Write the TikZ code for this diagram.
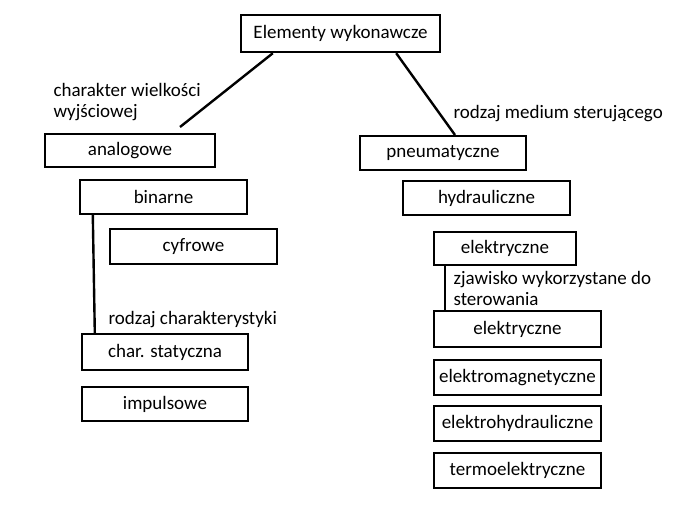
\documentclass[tikz,border=0pt]{standalone}
\usepackage{fontspec}
\setmainfont{Carlito}
\usetikzlibrary{positioning}
\begin{document}
\begin{tikzpicture}[x=1pt,y=-1pt,
	box/.style={rectangle, draw=black, line width=2.4pt, inner sep=0pt, font=\fontsize{19}{21}\selectfont},
	lbl/.style={align=left, anchor=west, font=\fontsize{19}{21}\selectfont},
	]
	\useasboundingbox (0,0) rectangle (700,519);
		%Nodes
    \node[box, minimum width=199, minimum height=37] (top)  at (340.5,33.5) {Elementy wykonawcze};
    \node[box, minimum width=170, minimum height=33] (ana)  at (130,150.5) {analogowe};
    \node[box, minimum width=167, minimum height=34] (bin)  at (163.5,197) {binarne};
    \node[box, minimum width=167, minimum height=35] (cyf)  at (193.5,246.5) {cyfrowe};
    \node[box, minimum width=166, minimum height=36] (stat) at (165,352) {char. statyczna};
    \node[box, minimum width=166, minimum height=34] (imp)  at (165,404) {impulsowe};
    \node[box, minimum width=166, minimum height=34] (pneu) at (443,153) {pneumatyczne};
    \node[box, minimum width=167, minimum height=34] (hydr) at (486.5,198) {hydrauliczne};
    \node[box, minimum width=142, minimum height=33] (elek) at (505,248.5) {elektryczne};
    \node[box, minimum width=167, minimum height=36] (el1)  at (517.5,329) {elektryczne};
    \node[box, minimum width=167, minimum height=35] (el2)  at (517.5,377.5) {elektromagnetyczne};
    \node[box, minimum width=167, minimum height=35] (el3)  at (517.5,423.5) {elektrohydrauliczne};
    \node[box, minimum width=167, minimum height=35] (el4)  at (517.5,470.5) {termoelektryczne};
    \coordinate (lend) at (180,127);
    \coordinate (rend) at (455,135);

		%Labels
    \node[lbl] (l1) at (50,102) {charakter wielkości\\wyjściowej};
    \node[lbl] (l2) at (450,114) {rodzaj medium sterującego};
    \node[lbl] (l3) at (105,320) {rodzaj charakterystyki};
    \node[lbl] (l4) at (450,288) {zjawisko wykorzystane do\\sterowania};

		%Lines
		\draw[line width=2.4pt] ([xshift=33pt]top.south west) -- (lend);
		\draw[line width=2.4pt] ([xshift=-45pt]top.south east) -- (rend);
		\draw[line width=2.4pt] ([xshift=14pt]bin.south west) -- ([xshift=14pt]stat.north west);
		\draw[line width=2.4pt] ([xshift=12pt]elek.south west) -- ([xshift=12pt]el1.north west);
\end{tikzpicture}
\end{document}
